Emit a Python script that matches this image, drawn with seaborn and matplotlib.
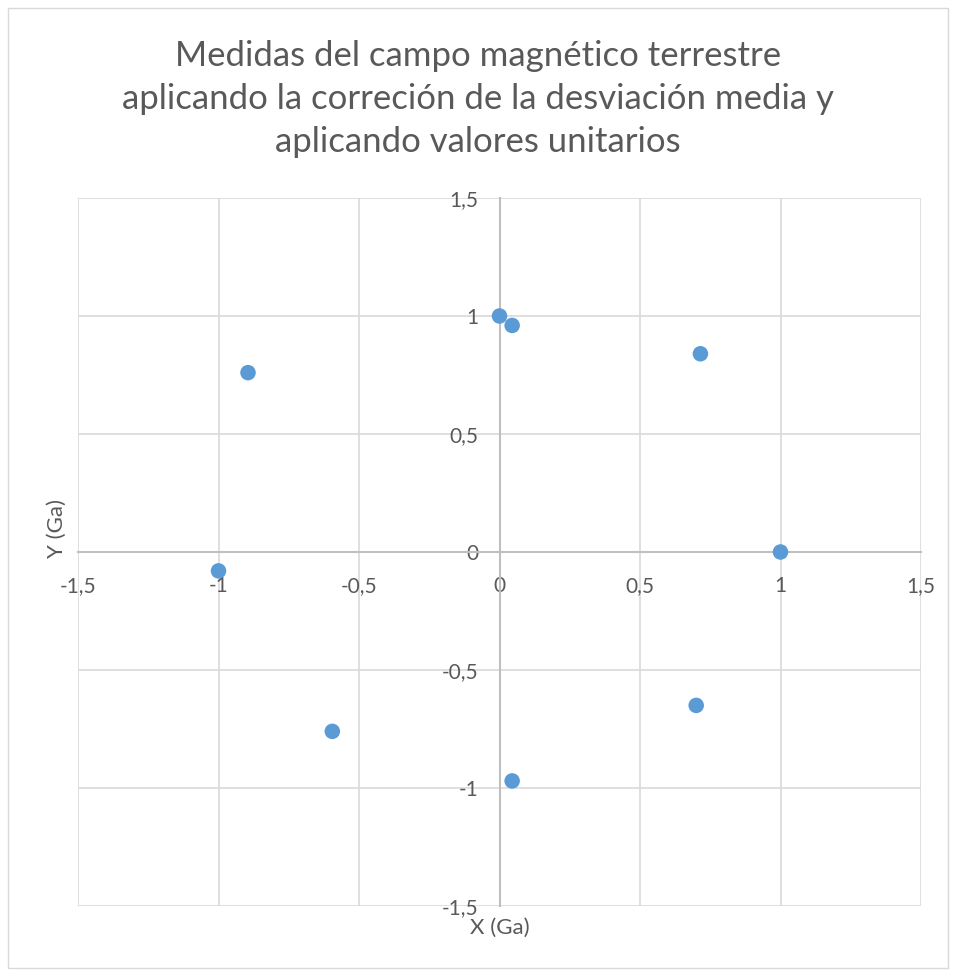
import matplotlib
matplotlib.use("Agg")
import matplotlib.pyplot as plt
import seaborn as sns
import pandas as pd
from matplotlib.patches import Rectangle

# readings (Ga), corrected and normalised
x_vals = [0.0, 0.045, 0.715, -0.895, 1.0, -1.0, -0.595, 0.70, 0.045]
y_vals = [1.0, 0.96, 0.84, 0.76, 0.0, -0.08, -0.76, -0.65, -0.97]
ticks = [-1.5, -1.0, -0.5, 0.0, 0.5, 1.0, 1.5]
tick_labels = ["-1,5", "-1", "-0,5", "0", "0,5", "1", "1,5"]

df = pd.DataFrame({"x": x_vals, "y": y_vals})

sns.set_theme(style="white")
plt.rcParams["font.family"] = ["Lato", "DejaVu Sans"]
txt = "#595959"

fig = plt.figure(figsize=(9.56, 9.72), dpi=100)
ax = fig.add_axes([78 / 956, 1 - 906 / 972, (921 - 78) / 956, (906 - 198) / 972])

sns.scatterplot(data=df, x="x", y="y", ax=ax, color="#5B9BD5", s=125,
                edgecolor="none", zorder=5)

ax.set_xlim(-1.5, 1.5)
ax.set_ylim(-1.5, 1.5)
ax.set_xticks(ticks)
ax.set_yticks(ticks)
ax.set_xticklabels(tick_labels)
ax.set_yticklabels(tick_labels)
ax.grid(True, color="#d9d9d9", linewidth=1.2)
ax.set_axisbelow(True)

for s in ["top", "right"]:
    ax.spines[s].set_visible(False)
ax.spines["left"].set_position(("data", 0))
ax.spines["bottom"].set_position(("data", 0))
for s in ["left", "bottom"]:
    ax.spines[s].set_color("#bfbfbf")
    ax.spines[s].set_linewidth(1.5)
ax.tick_params(axis="both", length=0, labelsize=15, colors=txt)
ax.tick_params(axis="x", pad=17)
ax.tick_params(axis="y", pad=15)
ax.set_xlabel("")
ax.set_ylabel("")

fig.text(500 / 956, 1 - 928 / 972, "X (Ga)", ha="center", va="center",
         fontsize=16, color=txt)
fig.text(57 / 956, 1 - 528 / 972, "Y (Ga)", ha="center", va="center",
         rotation=90, fontsize=16, color=txt)

fig.text(0.5, 1 - 99 / 972,
         "Medidas del campo magnético terrestre\n"
         "aplicando la correción de la desviación media y\n"
         "aplicando valores unitarios",
         ha="center", va="center", fontsize=25, color=txt, linespacing=1.42)

fig.patches.append(Rectangle((8 / 956, 4 / 972), 940 / 956, 960 / 972,
                             transform=fig.transFigure, fill=False,
                             edgecolor="#d9d9d9", linewidth=1))

fig.savefig("out.png", dpi=100)
